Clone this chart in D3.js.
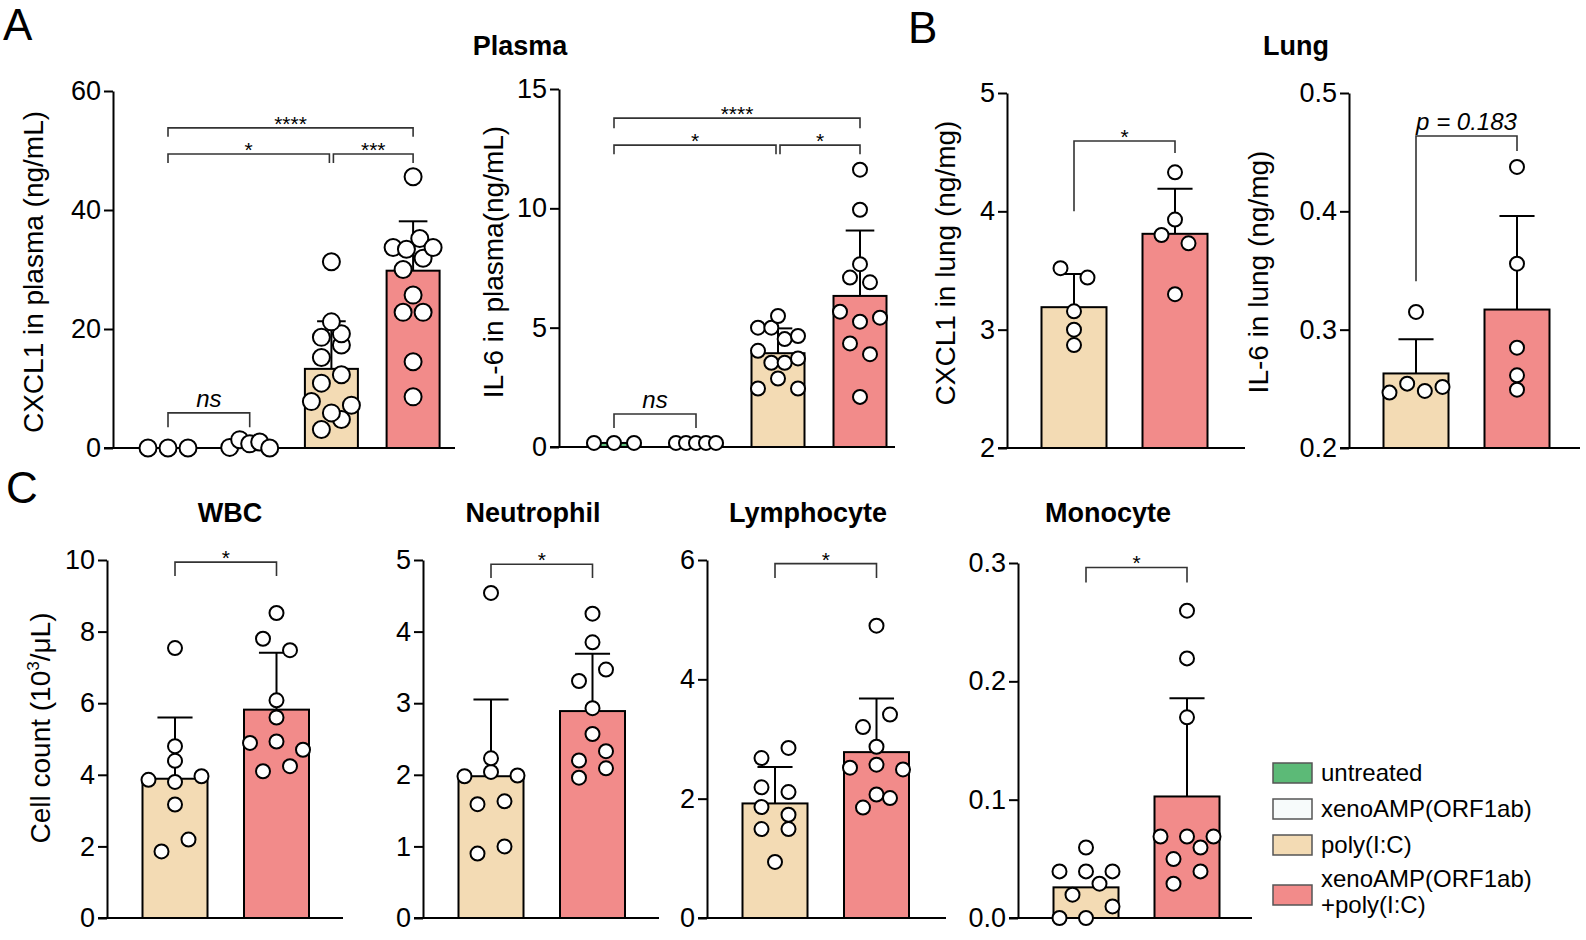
<!DOCTYPE html>
<html>
<head>
<meta charset="utf-8">
<script src="https://cdn.jsdelivr.net/npm/d3@7"></script>
<style>
  body { margin: 0; background: #fff; }
  svg { display: block; font-family: "Liberation Sans", Arial, sans-serif; }
</style>
</head>
<body>
<div id="chart"></div>
<script>
//constants
const width = 1586,
  height = 940;

// groups + legend
const groups = ["untreated", "xenoAMP(ORF1ab)", "poly(I:C)", "xenoAMP(ORF1ab)+poly(I:C)"];
const groupColors = ["#5cba77", "#f7fbfb", "#f3dbb4", "#f28b8a"];
const legendLines = [["untreated"], ["xenoAMP(ORF1ab)"], ["poly(I:C)"], ["xenoAMP(ORF1ab)", "+poly(I:C)"]];

// A - plasma CXCL1
const cxcl1PlasmaTicks = [0, 20, 40, 60];
const cxcl1PlasmaMean = [0, 0.5, 13.3, 29.8];
const cxcl1PlasmaSd = [0, 0, 8.0, 8.3];
const cxcl1PlasmaPts = [
  [0, 0, 0],
  [0.1, 1.4, 0.7, 1.0, 0.0],
  [3.1, 4.8, 7.8, 5.9, 7.2, 10.9, 12.3, 15.2, 17.3, 18.6, 19.2, 21.2, 31.3],
  [8.6, 14.5, 22.8, 22.8, 25.7, 30.0, 31.9, 33.7, 33.4, 35.2, 33.7, 45.6]
];
// [from, to, y, left leg end, right leg end, label]
const cxcl1PlasmaSig = [
  [0, 1, 5.9, 3.5, 3.5, "ns"],
  [0, 2, 49.4, 47.9, 47.9, "*"],
  [2, 3, 49.4, 47.9, 47.9, "***"],
  [0, 3, 53.8, 52.3, 52.3, "****"]
];

// A - plasma IL-6
const il6PlasmaTicks = [0, 5, 10, 15];
const il6PlasmaMean = [0.17, 0.17, 3.93, 6.33];
const il6PlasmaSd = [0, 0, 1.04, 2.74];
const il6PlasmaPts = [
  [0.17, 0.17, 0.17],
  [0.17, 0.17, 0.17, 0.17, 0.17],
  [2.45, 2.87, 2.45, 4.03, 3.53, 3.53, 3.71, 5.0, 5.0, 4.52, 4.65, 5.49],
  [2.10, 4.34, 3.89, 5.67, 5.25, 5.42, 7.10, 6.90, 7.66, 9.94, 11.62]
];
const il6PlasmaSig = [
  [0, 1, 1.38, 0.8, 0.8, "ns"],
  [0, 2, 12.65, 12.27, 12.27, "*"],
  [2, 3, 12.65, 12.27, 12.27, "*"],
  [0, 3, 13.78, 13.36, 13.36, "****"]
];

// B - lung
const cxcl1LungTicks = [2, 3, 4, 5];
const cxcl1LungMean = [3.19, 3.81];
const cxcl1LungSd = [0.28, 0.38];
const cxcl1LungPts = [
  [2.87, 3.0, 3.155, 3.52, 3.44],
  [3.30, 3.80, 3.73, 3.93, 4.33]
];
const cxcl1LungSig = [[0, 1, 4.595, 4.0, 4.494, "*"]];

const il6LungTicks = [0.2, 0.3, 0.4, 0.5];
const il6LungMean = [0.263, 0.317];
const il6LungSd = [0.029, 0.079];
const il6LungPts = [
  [0.2468, 0.2544, 0.2482, 0.2516, 0.315],
  [0.2493, 0.2614, 0.2848, 0.3558, 0.4375]
];
const il6LungSig = [[0, 1, 0.4637, 0.341, 0.451, "p = 0.183"]];

// C - blood cell counts
const wbcTicks = [0, 2, 4, 6, 8, 10];
const wbcMean = [3.89, 5.82];
const wbcSd = [1.71, 1.59];
const wbcPts = [
  [1.86, 2.19, 3.17, 3.86, 3.80, 3.96, 4.39, 4.80, 7.54],
  [4.10, 4.24, 4.89, 4.93, 4.70, 5.60, 6.08, 7.80, 7.48, 8.52]
];
const wbcSig = [[0, 1, 9.94, 9.55, 9.55, "*"]];

const neutTicks = [0, 1, 2, 3, 4, 5];
const neutMean = [1.98, 2.89];
const neutSd = [1.07, 0.80];
const neutPts = [
  [0.90, 1.00, 1.59, 1.63, 1.98, 2.04, 1.99, 2.23, 4.54],
  [1.96, 2.09, 2.20, 2.33, 2.57, 2.93, 3.31, 3.47, 3.85, 4.25]
];
const neutSig = [[0, 1, 4.94, 4.75, 4.75, "*"]];

const lymphTicks = [0, 2, 4, 6];
const lymphMean = [1.92, 2.78];
const lymphSd = [0.61, 0.90];
const lymphPts = [
  [0.94, 1.49, 1.49, 1.86, 1.73, 2.19, 2.11, 2.68, 2.85],
  [1.85, 2.07, 2.01, 2.52, 2.57, 2.49, 2.87, 3.20, 3.41, 4.90]
];
const lymphSig = [[0, 1, 5.94, 5.70, 5.70, "*"]];

const monoTicks = [0, 0.1, 0.2, 0.3];
const monoMean = [0.0259, 0.1027];
const monoSd = [null, 0.083];
const monoPts = [
  [0.0, 0.0, 0.0098, 0.0197, 0.029, 0.0394, 0.0394, 0.0394, 0.0596],
  [0.029, 0.0394, 0.0498, 0.0596, 0.0689, 0.0689, 0.0689, 0.1696, 0.2194, 0.2597]
];
const monoSig = [[0, 1, 0.2962, 0.2835, 0.2835, "*"]];

// panel layout (pixels)
const panels = [
  { cats: [0, 1, 2, 3], mean: cxcl1PlasmaMean, sd: cxcl1PlasmaSd, pts: cxcl1PlasmaPts, sig: cxcl1PlasmaSig,
    domain: [0, 60], ticks: cxcl1PlasmaTicks, fmt: "d", label: ["CXCL1 in plasma (ng/mL)"],
    ax: 113, top: 91, bot: 448, end: 455, off: 55, step: 81.7, bw: 53, r: 8.5, th: 15, s: 20, w: 40, lx: 43, ly: 272 },
  { cats: [0, 1, 2, 3], mean: il6PlasmaMean, sd: il6PlasmaSd, pts: il6PlasmaPts, sig: il6PlasmaSig,
    domain: [0, 15], ticks: il6PlasmaTicks, fmt: "d", label: ["IL-6 in plasma(ng/mL)"],
    ax: 559, top: 89, bot: 447, end: 895, off: 55, step: 82, bw: 53, r: 7, th: 13, s: 20, w: 40, lx: 503, ly: 262 },
  { cats: [2, 3], mean: cxcl1LungMean, sd: cxcl1LungSd, pts: cxcl1LungPts, sig: cxcl1LungSig,
    domain: [2, 5], ticks: cxcl1LungTicks, fmt: "d", label: ["CXCL1 in lung (ng/mg)"],
    ax: 1007, top: 93, bot: 448, end: 1245, off: 67, step: 101, bw: 65, r: 7, th: 13, s: 27, w: 53, lx: 955, ly: 263 },
  { cats: [2, 3], mean: il6LungMean, sd: il6LungSd, pts: il6LungPts, sig: il6LungSig,
    domain: [0.2, 0.5], ticks: il6LungTicks, fmt: ".1f", label: ["IL-6 in lung (ng/mg)"],
    ax: 1349, top: 93, bot: 448, end: 1580, off: 67, step: 101, bw: 65, r: 7, th: 13, s: 27, w: 53, lx: 1268, ly: 272 },
  { cats: [2, 3], mean: wbcMean, sd: wbcSd, pts: wbcPts, sig: wbcSig,
    domain: [0, 10], ticks: wbcTicks, fmt: "d", label: ["Cell count (10", "3", "/\u03bcL)"],
    ax: 107, top: 560, bot: 918, end: 343, off: 68, step: 101.5, bw: 65, r: 7, th: 13, s: 27, w: 53, lx: 50, ly: 728,
    title: "WBC", tx: 230 },
  { cats: [2, 3], mean: neutMean, sd: neutSd, pts: neutPts, sig: neutSig,
    domain: [0, 5], ticks: neutTicks, fmt: "d",
    ax: 423, top: 560, bot: 918, end: 659, off: 68, step: 101.5, bw: 65, r: 7, th: 13, s: 27, w: 53,
    title: "Neutrophil", tx: 533 },
  { cats: [2, 3], mean: lymphMean, sd: lymphSd, pts: lymphPts, sig: lymphSig,
    domain: [0, 6], ticks: lymphTicks, fmt: "d",
    ax: 707, top: 560, bot: 918, end: 946, off: 68, step: 101.5, bw: 65, r: 7, th: 13, s: 27, w: 53,
    title: "Lymphocyte", tx: 808 },
  { cats: [2, 3], mean: monoMean, sd: monoSd, pts: monoPts, sig: monoSig,
    domain: [0, 0.3], ticks: monoTicks, fmt: ".1f",
    ax: 1018, top: 563, bot: 918, end: 1252, off: 68, step: 101, bw: 65, r: 7, th: 13, s: 27, w: 53,
    title: "Monocyte", tx: 1108 }
];

const svg = d3.select("#chart")
  .append("svg")
  .attr("width", width)
  .attr("height", height)
  .attr("viewBox", [0, 0, width, height]);

// prism-like column scatter: bin into rows, spread each row around the centre
function spreadPoints(vals, y, th, s, w) {
  const idx = vals.map((v, i) => i).sort((a, b) => vals[a] - vals[b] || a - b);
  const rows = [];
  idx.forEach(i => {
    const row = rows[rows.length - 1];
    if (row && Math.abs(y(vals[i]) - y(vals[row[0]])) < th) row.push(i);
    else rows.push([i]);
  });
  const off = new Array(vals.length).fill(0);
  rows.forEach(row => {
    row.sort((a, b) => a - b);
    const n = row.length;
    const gap = n > 1 ? Math.min(s, w / (n - 1)) : 0;
    row.forEach((i, k) => { off[i] = (k - (n - 1) / 2) * gap; });
  });
  return off;
}

function drawPanel(p) {
  const g = svg.append("g");
  const y = d3.scaleLinear().domain(p.domain).range([p.bot, p.top]);
  const x = d3.scalePoint()
    .domain(p.cats.map(c => groups[c]))
    .range([p.ax + p.off, p.ax + p.off + p.step * (p.cats.length - 1)]);
  const base = p.domain[0];

  // axes
  const yAxis = g.append("g")
    .attr("transform", `translate(${p.ax},0)`)
    .call(d3.axisLeft(y).tickValues(p.ticks).tickSize(9).tickSizeOuter(0).tickPadding(3).tickFormat(d3.format(p.fmt)));
  yAxis.attr("font-family", null).attr("font-size", null);
  yAxis.selectAll("path, line").attr("stroke", "#000").attr("stroke-width", 2);
  yAxis.selectAll("text").attr("font-size", 27).attr("fill", "#000");

  g.append("line")
    .attr("x1", p.ax - 9).attr("x2", p.end)
    .attr("y1", y(base)).attr("y2", y(base))
    .attr("stroke", "#000").attr("stroke-width", 2);

  // bars
  p.cats.forEach((c, i) => {
    const cx = x(groups[c]);
    const m = p.mean[i];
    g.append("rect")
      .attr("x", cx - p.bw / 2)
      .attr("y", y(m))
      .attr("width", p.bw)
      .attr("height", y(base) - y(m))
      .attr("fill", groupColors[c])
      .attr("stroke", "#000")
      .attr("stroke-width", 2);
    const sd = p.sd[i];
    if (sd) {
      const capW = p.bw * 0.27;
      g.append("line")
        .attr("x1", cx).attr("x2", cx)
        .attr("y1", y(m)).attr("y2", y(m + sd))
        .attr("stroke", "#000").attr("stroke-width", 2);
      g.append("line")
        .attr("x1", cx - capW).attr("x2", cx + capW)
        .attr("y1", y(m + sd)).attr("y2", y(m + sd))
        .attr("stroke", "#000").attr("stroke-width", 2);
    }
  });

  // points
  p.cats.forEach((c, i) => {
    const vals = p.pts[i];
    const off = spreadPoints(vals, y, p.th, p.s, p.w);
    g.selectAll(null)
      .data(vals)
      .join("circle")
      .attr("cx", (d, k) => x(groups[c]) + off[k])
      .attr("cy", d => y(d))
      .attr("r", p.r)
      .attr("fill", "#fff")
      .attr("stroke", "#000")
      .attr("stroke-width", 2);
  });

  // significance brackets
  p.sig.forEach(b => {
    let x1 = x(groups[p.cats[b[0]]]);
    let x2 = x(groups[p.cats[b[1]]]);
    if (p.sig.some(o => o !== b && o[1] === b[0] && o[2] === b[2])) x1 += 2;
    if (p.sig.some(o => o !== b && o[0] === b[1] && o[2] === b[2])) x2 -= 2;
    const yy = y(b[2]);
    g.append("path")
      .attr("d", `M${x1},${y(b[3])}V${yy}H${x2}V${y(b[4])}`)
      .attr("fill", "none")
      .attr("stroke", "#333")
      .attr("stroke-width", 1.6);
    const star = b[5].startsWith("*");
    g.append("text")
      .attr("x", (x1 + x2) / 2)
      .attr("y", star ? yy + 3 : yy - 6)
      .attr("text-anchor", "middle")
      .attr("font-size", star ? 21 : 24)
      .attr("font-style", star ? null : "italic")
      .text(b[5]);
  });

  // y label
  if (p.label) {
    const t = g.append("text")
      .attr("transform", `translate(${p.lx},${p.ly}) rotate(-90)`)
      .attr("text-anchor", "middle")
      .attr("font-size", 28);
    if (p.label.length === 1) t.text(p.label[0]);
    else {
      t.append("tspan").text(p.label[0]);
      t.append("tspan").attr("font-size", 17).attr("dy", -11).text(p.label[1]);
      t.append("tspan").attr("dy", 11).text(p.label[2]);
    }
  }

  if (p.title) {
    svg.append("text")
      .attr("x", p.tx).attr("y", 522)
      .attr("text-anchor", "middle")
      .attr("font-size", 27)
      .attr("font-weight", "bold")
      .text(p.title);
  }
}

panels.forEach(drawPanel);

// section titles + panel letters
svg.append("text").attr("x", 520).attr("y", 55).attr("text-anchor", "middle")
  .attr("font-size", 27).attr("font-weight", "bold").text("Plasma");
svg.append("text").attr("x", 1296).attr("y", 55).attr("text-anchor", "middle")
  .attr("font-size", 27).attr("font-weight", "bold").text("Lung");

[["A", 3, 40], ["B", 908, 43], ["C", 6, 503]].forEach(([t, lx, ly]) => {
  svg.append("text").attr("x", lx).attr("y", ly).attr("font-size", 44).text(t);
});

// legend
const legendTops = [763, 799, 835, 885];
const legend = svg.append("g");
groups.forEach((gname, i) => {
  legend.append("rect")
    .attr("x", 1273).attr("y", legendTops[i])
    .attr("width", 39).attr("height", 20)
    .attr("fill", groupColors[i])
    .attr("stroke", "#555")
    .attr("stroke-width", 1.5);
  const lines = legendLines[i];
  const t = legend.append("text")
    .attr("x", 1321)
    .attr("font-size", 24);
  lines.forEach((ln, k) => {
    t.append("tspan")
      .attr("x", 1321)
      .attr("y", lines.length === 1 ? legendTops[i] + 18 : legendTops[i] + 2 + (k * 26))
      .text(ln);
  });
});
</script>
</body>
</html>
